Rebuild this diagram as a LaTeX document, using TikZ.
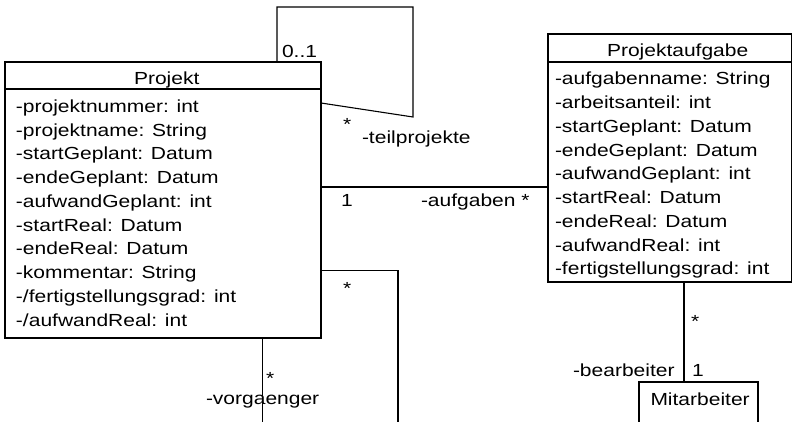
\documentclass[tikz,border=0pt]{standalone}
\usepackage{fontspec}
\setmainfont[FakeStretch=1.2]{Liberation Sans}
\begin{document}
\begin{tikzpicture}[x=1pt,y=-1pt,line width=1.1pt,
  every node/.style={font=\fontsize{17.5}{21}\selectfont,inner sep=0pt,outer sep=0pt},
  classbox/.style={draw,rectangle,anchor=north west},
  lbl/.style={anchor=base west}]
\useasboundingbox (0,0) rectangle (793,422);
% classes
\node[classbox,minimum width=316pt,minimum height=276pt] (proj) at (5,62) {};
\draw ([yshift=-27pt]proj.north west) -- ([yshift=-27pt]proj.north east);
\node[lbl] (projt) at (134,85) {Projekt};
\foreach \t [count=\i] in {-projektnummer: int,-projektname: String,-startGeplant: Datum,-endeGeplant: Datum,-aufwandGeplant: int,-startReal: Datum,-endeReal: Datum,-kommentar: String,-/fertigstellungsgrad: int,-/aufwandReal: int}
  \node[lbl] (pa\i) at (16,{112.5+23.75*(\i-1)}) {\t};

\node[classbox,minimum width=243.5pt,minimum height=248pt] (task) at (548,34) {};
\draw ([yshift=-28pt]task.north west) -- ([yshift=-28pt]task.north east);
\node[lbl] (taskt) at (607,56.7) {Projektaufgabe};
\foreach \t [count=\i] in {-aufgabenname: String,-arbeitsanteil: int,-startGeplant: Datum,-endeGeplant: Datum,-aufwandGeplant: int,-startReal: Datum,-endeReal: Datum,-aufwandReal: int,-fertigstellungsgrad: int}
  \node[lbl] (ta\i) at (555,{85+23.75*(\i-1)}) {\t};

\node[classbox,minimum width=119pt,minimum height=50pt] (mit) at (639,382) {};
\node[lbl] (mitt) at (650.5,405) {Mitarbeiter};

% self association teilprojekte
\coordinate (loopA) at (413,7);
\coordinate (loopB) at (413,117);
\draw ([xshift=272pt]proj.north west) |- (loopA) -- (loopB) -- ([yshift=-41pt]proj.north east);
\node[lbl] (m01) at (282,57.3) {0..1};
\node[lbl] (mst1) at (343,130.5) {*};
\node[lbl] (rtp) at (362,144) {-teilprojekte};

% aufgaben
\draw ([yshift=-125pt]proj.north east) coordinate (a1) -- (a1 -| task.west);
\node[lbl] (m1a) at (341,207) {1};
\node[lbl] (rauf) at (421,207) {-aufgaben *};

% vorgaenger
\coordinate (v1) at (398,430);
\coordinate (v2) at (262.3,430);
\draw ([yshift=-208.7pt]proj.north east) -| (v1);
\draw (v2 |- proj.south) -- (v2);
\node[lbl] (mst2) at (343,294.5) {*};
\node[lbl] (mst3) at (266,384.5) {*};
\node[lbl] (rvor) at (206,404) {-vorgaenger};

% bearbeiter
\draw ([xshift=45pt]mit.north west) -- ([xshift=45pt]mit.north west |- task.south);
\node[lbl] (mst4) at (691,327.5) {*};
\node[lbl] (rbear) at (573,376) {-bearbeiter};
\node[lbl] (m1b) at (692,376) {1};
\end{tikzpicture}
\end{document}
